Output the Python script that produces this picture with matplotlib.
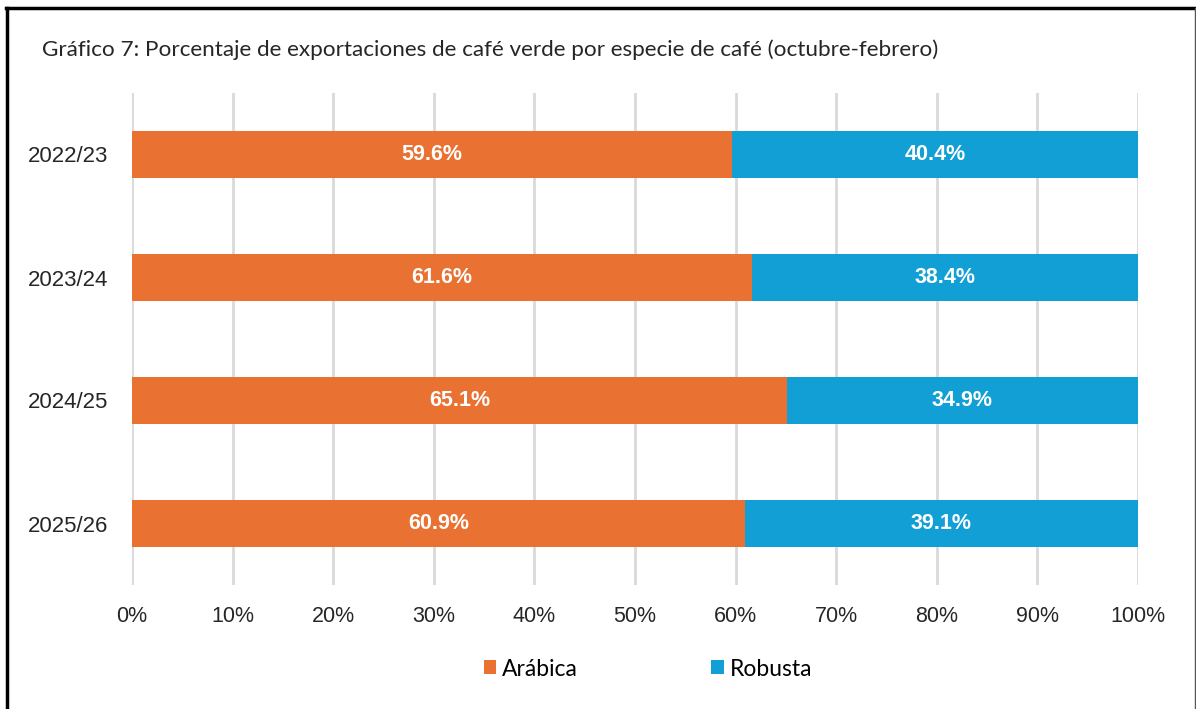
import matplotlib
matplotlib.use("Agg")
import matplotlib.pyplot as plt
from matplotlib.lines import Line2D
from matplotlib.patches import Patch

years = ["2022/23", "2023/24", "2024/25", "2025/26"]
arabica = [59.6, 61.6, 65.1, 60.9]
robusta = [40.4, 38.4, 34.9, 39.1]
xticks = [0, 10, 20, 30, 40, 50, 60, 70, 80, 90, 100]
title = "Gráfico 7: Porcentaje de exportaciones de café verde por especie de café (octubre-febrero)"

c_ara = "#E97132"
c_rob = "#119FD6"

fig = plt.figure(figsize=(11.96, 7.09), dpi=100)
ax = fig.add_axes([132/1196, 1-585/709, (1138-132)/1196, (585-93)/709])

ypos = list(range(len(years)))
bh = 0.39
ax.barh(ypos, arabica, height=bh, color=c_ara, zorder=3)
ax.barh(ypos, robusta, left=arabica, height=bh, color=c_rob, zorder=3)
for y, a, r in zip(ypos, arabica, robusta):
    ax.text(a/2, y, f"{a:.1f}%", ha="center", va="center", color="white",
            fontsize=15.5, fontweight="bold", family="Liberation Sans", zorder=4)
    ax.text(a + r/2, y, f"{r:.1f}%", ha="center", va="center", color="white",
            fontsize=15.5, fontweight="bold", family="Liberation Sans", zorder=4)

ax.set_xlim(0, 100)
ax.set_ylim(len(years)-0.5, -0.5)
ax.set_yticks(ypos)
ax.set_yticklabels(years, family="Liberation Sans", fontsize=16, color="#262626")
ax.set_xticks(xticks)
ax.set_xticklabels([f"{v}%" for v in xticks], family="Liberation Sans", fontsize=15.5, color="#262626")
ax.tick_params(axis="both", length=0)
ax.tick_params(axis="x", pad=15)
ax.tick_params(axis="y", pad=17)
ax.grid(axis="x", color="#D9D9D9", linewidth=2, zorder=0)
for s in ax.spines.values():
    s.set_visible(False)

fig.text(42/1196, 1-50/709, title, ha="left", va="center", fontsize=16.2,
         family="Lato", color="#262626")

handles = [Patch(facecolor=c_ara, label="Arábica"), Patch(facecolor=c_rob, label="Robusta")]
fig.legend(handles=handles, loc="center", bbox_to_anchor=(648/1196, 1-669/709), ncol=2,
           frameon=False, prop={"family": "Lato", "size": 16.5}, handlelength=0.55,
           handleheight=0.55, handletextpad=0.27, columnspacing=5.8)

# border
fig.add_artist(Line2D([6/1196, 1195/1196], [1-8/709, 1-8/709], transform=fig.transFigure, color="black", lw=2.5))
fig.add_artist(Line2D([7/1196, 7/1196], [0, 1-8/709], transform=fig.transFigure, color="black", lw=2.5))
fig.add_artist(Line2D([1195/1196, 1195/1196], [0, 1-8/709], transform=fig.transFigure, color="#555555", lw=1))

fig.savefig("out.png", dpi=100, facecolor="white")
